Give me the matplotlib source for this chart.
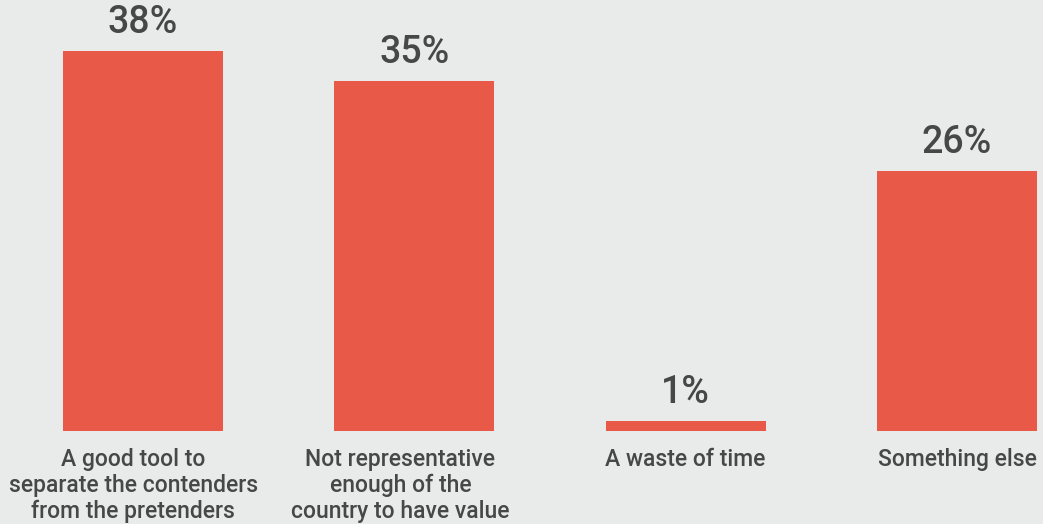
import matplotlib.pyplot as plt

categories = ["A good tool to\nseparate the contenders\nfrom the pretenders",
              "Not representative\nenough of the\ncountry to have value",
              "A waste of time",
              "Something else"]
values = [38, 35, 1, 26]

bar_color = "#E85A47"
text_color = "#474747"
bg_color = "#E9EBEA"

# small horizontal nudges (points) for the wrapped labels, as in the original
label_shift = [-7, -10, 0, 0]

fig = plt.figure(figsize=(10.43, 5.24), dpi=100)
fig.patch.set_facecolor(bg_color)
ax = fig.add_axes([0, 0, 1, 1])
ax.set_facecolor(bg_color)

x = range(len(values))
bars = ax.bar(x, values, width=0.59, color=bar_color)

for xi, v in zip(x, values):
    ax.annotate(f"{v}%", (xi, v), xytext=(0, 7), textcoords="offset points",
                ha="center", va="bottom", fontsize=27, color=text_color,
                family="Roboto", fontweight="medium")
    ax.annotate(categories[xi], (xi, -1.7), xytext=(label_shift[xi], 0),
                textcoords="offset points", ha="center", va="top",
                fontsize=16.5, color=text_color, family="Roboto",
                fontweight="medium", linespacing=1.15)

ax.set_xlim(-0.527, 3.317)
ax.set_ylim(-9.3, 43.1)
ax.axis("off")

plt.savefig("out.png", dpi=100, facecolor=bg_color)
